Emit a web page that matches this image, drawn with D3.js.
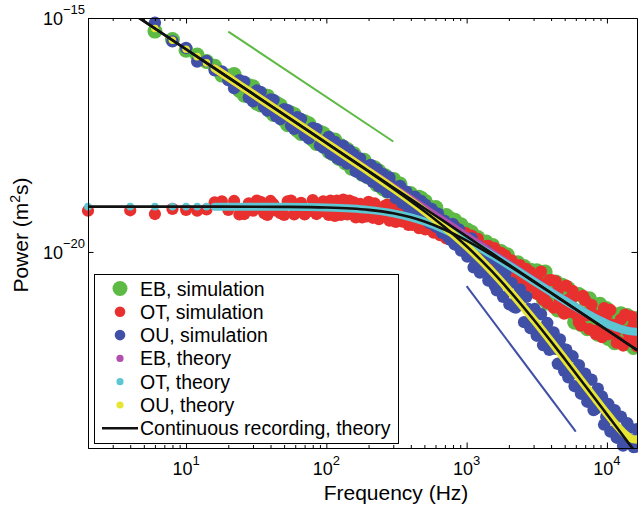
<!DOCTYPE html>
<html>
<head>
<meta charset="utf-8">
<script src="https://cdn.jsdelivr.net/npm/d3@7"></script>
<style>
  body { margin: 0; background: #fff; }
  text { font-family: 'Liberation Sans', Arial, Helvetica, sans-serif; fill: #000; }
</style>
</head>
<body>
<div id="spectrum"></div>
<script>
let margin = {top: 18, right: 1, bottom: 63, left: 88},
  width = 638 - margin.left - margin.right,
  height = 511 - margin.top - margin.bottom

// frequency bins of the simulated spectra (Hz)
let simFreq = [2, 4, 6, 8, 10, 12, 14, 16, 18, 20, 24, 28, 32, 36, 40, 44, 50, 56, 62, 70, 80, 90,
  100, 107, 115, 123, 132, 141, 151, 162, 174, 186, 200, 214, 229, 245, 263, 282, 302, 324, 347,
  372, 398, 427, 457, 490, 525, 562, 603, 646, 692, 741, 794, 851, 912, 977, 1047, 1122, 1202,
  1288, 1380, 1479, 1585, 1698, 1820, 1950, 2089, 2239, 2399, 2570, 2754, 2951, 3162, 3388, 3631,
  3890, 4169, 4467, 4786, 5129, 5495, 5888, 6310, 6761, 7244, 7762, 8318, 8913, 9550, 10233,
  10965, 11749, 12589, 13490, 14454, 15488, 16384]
// in-between bins, where the points crowd into solid bands
let simFreq2 = [22, 26, 30, 34, 38, 42, 47, 53, 59, 66, 75, 85, 95,
  104, 111, 119, 127, 137, 146, 157, 168, 180, 193, 207, 221, 237, 254, 272, 292, 313, 335, 359,
  385, 412, 442, 473, 507, 543, 582, 624, 668, 716, 767, 822, 881, 944, 1012, 1084, 1161, 1245,
  1334, 1429, 1531, 1641, 1758, 1884, 2018, 2163, 2317, 2483, 2661, 2851, 3055, 3273, 3508, 3758,
  4027, 4315, 4624, 4955, 5309, 5689, 6095, 6531, 6998, 7499, 8035, 8610, 9226, 9886, 10593,
  11350, 12162, 13032, 13964, 14962, 15930]

// log10 of power (m^2 s)
let ebSim = [-14.30, -14.85, -15.28, -15.46, -15.69, -15.79, -15.93, -16.03, -16.22, -16.24, -16.55,
  -16.45, -16.82, -16.66, -16.99, -16.82, -17.18, -17.03, -17.40, -17.22, -17.60, -17.44,
  -17.54, -17.79, -17.61, -18.00, -17.87, -17.81, -18.21, -18.01, -18.17, -18.04,
  -18.40, -18.23, -18.56, -18.44, -18.37, -18.66, -18.45, -18.83, -18.70, -18.99,
  -18.75, -18.97, -18.83, -19.17, -19.04, -19.32, -19.05, -19.34, -19.26, -19.58,
  -19.61, -19.45, -19.42, -19.75, -19.68, -19.94, -19.69, -19.95, -19.79, -20.16,
  -19.96, -20.08, -20.35, -20.06, -20.38, -20.24, -20.55, -20.31, -20.56, -20.75,
  -20.40, -20.89, -20.43, -20.89, -20.72, -21.24, -20.71, -21.27, -20.99, -21.50,
  -20.91, -21.33, -21.64, -21.21, -21.65, -21.12, -21.50, -21.85, -21.32, -21.75,
  -21.32, -21.96, -21.62, -22.04, -21.42]
let ebSim2 = [-16.21, -16.65, -16.47, -16.86, -16.67, -17.06, -16.87, -17.28, -17.06, -17.47,
  -17.26, -17.68, -17.47,
  -17.85, -17.90, -17.70, -17.73, -18.10, -17.95, -17.90, -18.26, -18.34, -18.16,
  -18.36, -18.20, -18.27, -18.65, -18.70, -18.57, -18.53, -18.55, -18.88, -18.89,
  -19.07, -19.11, -18.85, -18.92, -19.04, -19.28, -19.43, -19.47, -19.22, -19.29,
  -19.32, -19.72, -19.79, -19.53, -19.58, -19.83, -20.01, -20.08, -19.91, -19.86,
  -20.26, -19.99, -20.29, -20.43, -20.48, -20.23, -20.62, -20.67, -20.39, -20.67,
  -20.55, -21.00, -21.09, -21.09, -20.64, -20.94, -21.08, -20.78, -20.90, -21.35,
  -21.55, -21.01, -21.00, -21.46, -21.76, -21.74, -21.21, -21.51, -21.94, -21.89,
  -21.56, -21.36, -21.47, -21.80]
let otSim = [-19.12, -19.11, -19.19, -19.08, -19.10, -19.12, -19.09, -18.94, -18.92, -19.10, -19.20,
  -18.96, -18.90, -19.17, -18.91, -19.12, -19.21, -18.90, -19.06, -19.20, -18.89, -19.14,
  -19.15, -18.90, -19.23, -19.03, -18.88, -19.20, -18.99, -19.26, -18.97, -19.12,
  -18.93, -19.27, -19.07, -19.21, -19.01, -19.33, -19.08, -19.18, -19.35, -19.06,
  -19.32, -19.15, -19.49, -19.30, -19.22, -19.53, -19.35, -19.64, -19.35, -19.60,
  -19.47, -19.82, -19.63, -19.59, -19.89, -20.02, -19.72, -19.97, -19.87, -20.20,
  -19.92, -20.24, -20.17, -20.44, -20.18, -20.50, -20.28, -20.48, -20.73, -20.52,
  -20.90, -20.42, -20.88, -20.60, -21.19, -20.82, -21.25, -20.72, -21.28, -20.94,
  -21.50, -20.94, -21.35, -21.13, -21.75, -21.36, -21.20, -21.76, -21.56, -21.94,
  -21.44, -21.34, -21.85, -21.57, -22.02]
let otSim2 = [-18.91, -19.19, -19.12, -18.93, -19.21, -18.98, -19.17, -18.92, -19.20, -18.95,
  -19.13, -19.19, -18.92,
  -19.21, -18.96, -18.90, -19.21, -19.12, -18.90, -18.94, -19.20, -19.26, -19.24,
  -19.05, -18.96, -19.30, -19.11, -18.99, -19.30, -19.36, -19.04, -19.29, -19.42,
  -19.42, -19.13, -19.18, -19.52, -19.37, -19.59, -19.30, -19.58, -19.71, -19.73,
  -19.46, -19.57, -19.88, -19.94, -19.65, -19.88, -20.08, -20.14, -19.87, -20.02,
  -20.30, -20.02, -20.07, -20.39, -20.51, -20.38, -20.63, -20.36, -20.43, -20.70,
  -20.64, -21.02, -21.09, -20.60, -20.63, -21.04, -21.32, -21.02, -20.83, -21.35,
  -21.57, -21.03, -21.65, -21.34, -21.67, -21.82, -21.37, -21.24, -21.73, -21.92,
  -22.00, -21.69, -21.38, -21.89]
let ouSim = [-14.28, -14.90, -15.10, -15.50, -15.64, -15.93, -15.92, -16.12, -16.14, -16.33, -16.33,
  -16.70, -16.55, -16.90, -16.74, -17.10, -16.95, -17.30, -17.12, -17.50, -17.35, -17.72,
  -17.61, -17.90, -17.65, -17.90, -17.73, -18.11, -18.01, -18.28, -18.00, -18.31,
  -18.16, -18.50, -18.23, -18.48, -18.66, -18.41, -18.73, -18.62, -18.95, -18.71,
  -18.95, -18.82, -19.22, -19.03, -19.30, -19.08, -19.46, -19.34, -19.33, -19.69,
  -19.40, -19.79, -19.97, -19.70, -19.89, -20.33, -19.87, -20.37, -19.98, -20.45,
  -20.72, -20.31, -20.96, -20.64, -20.66, -21.19, -20.80, -21.50, -21.22, -21.25,
  -21.79, -21.33, -21.86, -22.09, -21.72, -22.39, -22.06, -22.09, -22.62, -22.87,
  -22.42, -22.88, -23.20, -22.73, -23.35, -23.13, -23.69, -23.25, -23.56, -23.97,
  -23.52, -24.05, -23.76, -24.17, -23.79]
let ouSim2 = [-16.50, -16.36, -16.78, -16.58, -16.98, -16.75, -17.16, -16.97, -17.37, -17.16,
  -17.57, -17.37, -17.77,
  -17.54, -17.88, -17.99, -18.03, -17.84, -17.83, -17.92, -18.19, -18.36, -18.41,
  -18.14, -18.47, -18.60, -18.34, -18.72, -18.57, -18.85, -18.59, -18.95, -19.05,
  -19.10, -18.87, -18.91, -18.99, -19.38, -19.24, -19.18, -19.59, -19.58, -19.74,
  -19.84, -19.52, -19.77, -20.10, -19.71, -20.23, -20.44, -20.21, -20.61, -20.14,
  -20.82, -20.49, -20.45, -21.12, -21.17, -21.09, -20.97, -20.96, -21.63, -21.22,
  -21.67, -21.99, -21.52, -21.72, -22.07, -21.87, -22.54, -22.68, -22.23, -22.52,
  -23.03, -22.60, -23.03, -23.38, -22.92, -23.09, -23.52, -23.84, -23.38, -23.93,
  -24.14, -23.66, -24.02, -24.16]

// sampled-data theory (drawn as dense markers in the original)
let theoryFreq = [16, 20, 30, 50, 70, 100, 150, 200, 300, 400, 500, 700, 1000, 1500, 2000, 3000,
  4000, 5000, 6000, 7000, 8000, 9000, 10000, 11000, 12000, 13000, 14000, 15000, 16384]
let ebTheory = [-16.076, -16.27, -16.622, -17.066, -17.358, -17.668, -18.02, -18.27, -18.622,
  -18.872, -19.066, -19.357, -19.665, -20.014, -20.263, -20.61, -20.851, -21.033, -21.176,
  -21.292, -21.387, -21.465, -21.531, -21.584, -21.626, -21.658, -21.681, -21.697, -21.705]
let otTheory = [-19.032, -19.032, -19.033, -19.036, -19.041, -19.05, -19.072, -19.101, -19.175,
  -19.26, -19.35, -19.525, -19.755, -20.057, -20.287, -20.621, -20.857, -21.037, -21.179,
  -21.294, -21.389, -21.466, -21.532, -21.584, -21.626, -21.658, -21.681, -21.697, -21.705]
let ouTheory = [-16.076, -16.27, -16.622, -17.067, -17.359, -17.671, -18.026, -18.281, -18.646,
  -18.913, -19.129, -19.474, -19.879, -20.401, -20.814, -21.443, -21.913, -22.287, -22.595,
  -22.858, -23.082, -23.28, -23.455, -23.607, -23.739, -23.85, -23.935, -23.992, -24.015]

// lowest bins, where theory markers are still separate dots
let otLowFreq = [2, 4, 6, 8, 10, 12, 14]
let otLow = [-19.032, -19.032, -19.032, -19.032, -19.032, -19.032, -19.032]
let ouLowFreq = [6, 8, 10, 12, 14]
let ouLow = [-15.224, -15.474, -15.668, -15.826, -15.96]

// continuous recording, theory (black lines)
let contFreq = [2, 10, 30, 50, 100, 150, 200, 300, 400, 500, 700, 1000, 1500, 2000, 3000, 4000,
  5000, 7000, 10000, 15000, 16384]
let ebCont = [-14.27, -15.668, -16.622, -17.066, -17.668, -18.02, -18.27, -18.622, -18.872,
  -19.066, -19.358, -19.668, -20.02, -20.27, -20.622, -20.872, -21.066, -21.358, -21.668,
  -22.02, -22.097]
let otCont = [-19.032, -19.032, -19.033, -19.036, -19.05, -19.072, -19.101, -19.175, -19.26,
  -19.35, -19.526, -19.758, -20.063, -20.294, -20.633, -20.878, -21.07, -21.36, -21.669,
  -22.02, -22.097]
let ouCont = [-14.27, -15.668, -16.622, -17.067, -17.671, -18.026, -18.281, -18.646, -18.913,
  -19.129, -19.474, -19.879, -20.401, -20.814, -21.443, -21.913, -22.287, -22.858, -23.471,
  -24.171, -24.325]

// slope guides
let guideEbFreq = [20, 300]
let guideEb = [-15.29, -17.64]
let guideOuFreq = [1000, 6000]
let guideOu = [-20.73, -23.84]

let xMajor = [10, 100, 1000, 10000]
let xMajorExp = ['1', '2', '3', '4']
let yMajor = [-20, -15]
let yMajorExp = ['\u221220', '\u221215']

let legendLabels = ['EB, simulation', 'OT, simulation', 'OU, simulation',
  'EB, theory', 'OT, theory', 'OU, theory', 'Continuous recording, theory']

let color = {
  eb: '#5dba45', ot: '#e8312f', ou: '#4150a7',
  ebT: '#b04fae', otT: '#5cc7d3', ouT: '#e7e533', cont: '#111'
}

let svg = d3
  .select('#spectrum')
  .append('svg')
  .attr('width', width + margin.left + margin.right)
  .attr('height', height + margin.top + margin.bottom)
  .append('g')
  .attr('transform', 'translate(' + margin.left + ',' + margin.top + ')')

let x = d3.scaleLog().domain([2, 16384]).range([0, width])
let y = d3.scaleLog().domain([Math.pow(10, -24.19), 1e-15]).range([height, 0])

function pw(v) {
  return Math.pow(10, v)
}
function pairs(freq, vals) {
  return freq.map(function(f, i) {
    return {f: f, p: pw(vals[i])}
  })
}
function inside(d) {
  return d.f >= 2 && d.f <= 16384 && d.p <= 1e-15 && d.p >= Math.pow(10, -24.19)
}

svg
  .append('clipPath')
  .attr('id', 'plotClip')
  .append('rect')
  .attr('width', width)
  .attr('height', height)

// simulated spectra
let sims = [
  {data: pairs(simFreq, ebSim).concat(pairs(simFreq2, ebSim2)), c: color.eb, r: 7.5},
  {data: pairs(simFreq, otSim).concat(pairs(simFreq2, otSim2)), c: color.ot, r: 6.1},
  {data: pairs(simFreq, ouSim).concat(pairs(simFreq2, ouSim2)), c: color.ou, r: 6.2}
]
sims.forEach(function(s) {
  svg
    .append('g')
    .selectAll('circle')
    .data(s.data.filter(inside))
    .enter()
    .append('circle')
    .attr('cx', function(d) {
      return x(d.f)
    })
    .attr('cy', function(d) {
      return y(d.p)
    })
    .attr('r', s.r)
    .attr('fill', s.c)
})

let line = d3
  .line()
  .x(function(d) {
    return x(d.f)
  })
  .y(function(d) {
    return y(d.p)
  })
  .curve(d3.curveMonotoneX)

// theory markers, dense enough to read as thick lines
let theories = [
  {data: pairs(theoryFreq, ebTheory), c: color.ebT},
  {data: pairs(theoryFreq, otTheory), c: color.otT, low: pairs(otLowFreq, otLow)},
  {data: pairs(theoryFreq, ouTheory), c: color.ouT, low: pairs(ouLowFreq, ouLow)}
]
theories.forEach(function(t) {
  svg
    .append('path')
    .datum(t.data)
    .attr('d', line)
    .attr('fill', 'none')
    .attr('stroke', t.c)
    .attr('stroke-width', 8)
    .attr('stroke-linecap', 'round')
  if (t.low) {
    svg
      .append('g')
      .selectAll('circle')
      .data(t.low)
      .enter()
      .append('circle')
      .attr('cx', function(d) {
        return x(d.f)
      })
      .attr('cy', function(d) {
        return y(d.p)
      })
      .attr('r', 3.8)
      .attr('fill', t.c)
  }
})

// continuous recording theory
;[ebCont, otCont, ouCont].forEach(function(vals) {
  svg
    .append('path')
    .datum(pairs(contFreq, vals))
    .attr('d', line)
    .attr('clip-path', 'url(#plotClip)')
    .attr('fill', 'none')
    .attr('stroke', color.cont)
    .attr('stroke-width', 2.6)
})

// slope guides
svg
  .append('path')
  .datum(pairs(guideEbFreq, guideEb))
  .attr('d', line)
  .attr('stroke', color.eb)
  .attr('stroke-width', 2)
svg
  .append('path')
  .datum(pairs(guideOuFreq, guideOu))
  .attr('d', line)
  .attr('stroke', color.ou)
  .attr('stroke-width', 2)

// axes: box with inward ticks
let xMinor = x.ticks().filter(function(t) {
  return xMajor.indexOf(t) < 0
})
let yTicks = yMajor.map(pw)

function styleAxis(g) {
  g.selectAll('path').attr('stroke', '#000')
  g.selectAll('line').attr('stroke', '#000')
}
svg.append('g').attr('transform', 'translate(0,' + height + ')')
  .call(d3.axisBottom(x).tickValues(xMajor).tickSize(-5.5).tickSizeOuter(0).tickFormat(''))
  .call(styleAxis)
svg.append('g').attr('transform', 'translate(0,' + height + ')')
  .call(d3.axisBottom(x).tickValues(xMinor).tickSize(-3).tickSizeOuter(0).tickFormat(''))
  .call(styleAxis)
svg.append('g')
  .call(d3.axisTop(x).tickValues(xMajor).tickSize(-5.5).tickSizeOuter(0).tickFormat(''))
  .call(styleAxis)
svg.append('g')
  .call(d3.axisTop(x).tickValues(xMinor).tickSize(-3).tickSizeOuter(0).tickFormat(''))
  .call(styleAxis)
svg.append('g')
  .call(d3.axisLeft(y).tickValues(yTicks).tickSize(-5.5).tickSizeOuter(0).tickFormat(''))
  .call(styleAxis)
svg.append('g').attr('transform', 'translate(' + width + ',0)')
  .call(d3.axisRight(y).tickValues(yTicks).tickSize(-5.5).tickSizeOuter(0).tickFormat(''))
  .call(styleAxis)

// tick labels with superscript exponents
let xLab = svg
  .append('g')
  .selectAll('text')
  .data(xMajor)
  .enter()
  .append('text')
  .attr('x', function(d) {
    return x(d)
  })
  .attr('y', height + 27)
  .attr('text-anchor', 'middle')
  .style('font-size', '18px')
xLab.append('tspan').text('10')
xLab
  .append('tspan')
  .attr('dy', -10)
  .style('font-size', '13px')
  .text(function(d, i) {
    return xMajorExp[i]
  })

let yLab = svg
  .append('g')
  .selectAll('text')
  .data(yMajor)
  .enter()
  .append('text')
  .attr('x', -3)
  .attr('y', function(d) {
    return y(pw(d)) + 7
  })
  .attr('text-anchor', 'end')
  .style('font-size', '18px')
yLab.append('tspan').text('10')
yLab
  .append('tspan')
  .attr('dy', -11)
  .style('font-size', '13px')
  .text(function(d, i) {
    return yMajorExp[i]
  })

svg
  .append('text')
  .attr('x', 308)
  .attr('y', height + 52)
  .attr('text-anchor', 'middle')
  .style('font-size', '21px')
  .text('Frequency (Hz)')

let yTitle = svg
  .append('text')
  .attr('transform', 'translate(-60,' + 217 + ') rotate(-90)')
  .attr('text-anchor', 'middle')
  .style('font-size', '21px')
yTitle.append('tspan').text('Power (m')
yTitle.append('tspan').attr('dy', -8).style('font-size', '14px').text('2')
yTitle.append('tspan').attr('dy', 8).text('s)')

// legend
let legend = svg.append('g').attr('transform', 'translate(6,256)')
legend
  .append('rect')
  .attr('x', 0.5)
  .attr('y', 0.5)
  .attr('width', 304)
  .attr('height', 169)
  .attr('fill', '#fff')
  .attr('stroke', '#000')
  .attr('stroke-width', 1)

let legendMarks = [
  {c: color.eb, r: 7.5}, {c: color.ot, r: 5.3}, {c: color.ou, r: 5.3},
  {c: color.ebT, r: 3.6}, {c: color.otT, r: 3.6}, {c: color.ouT, r: 3.6}, {c: color.cont}
]
let rows = legend
  .selectAll('g.row')
  .data(legendLabels)
  .enter()
  .append('g')
  .attr('class', 'row')
  .attr('transform', function(d, i) {
    return 'translate(0,' + (14.5 + i * 23.3) + ')'
  })
rows.each(function(d, i) {
  let m = legendMarks[i]
  let g = d3.select(this)
  if (m.r) {
    g.append('circle').attr('cx', 26).attr('cy', 0).attr('r', m.r).attr('fill', m.c)
  } else {
    g.append('line').attr('x1', 8).attr('x2', 44).attr('y1', 0).attr('y2', 0)
      .attr('stroke', m.c).attr('stroke-width', 2.6)
  }
})
rows
  .append('text')
  .attr('x', 46)
  .attr('y', 7)
  .style('font-size', '19.5px')
  .text(function(d) {
    return d
  })
</script>
</body>
</html>
